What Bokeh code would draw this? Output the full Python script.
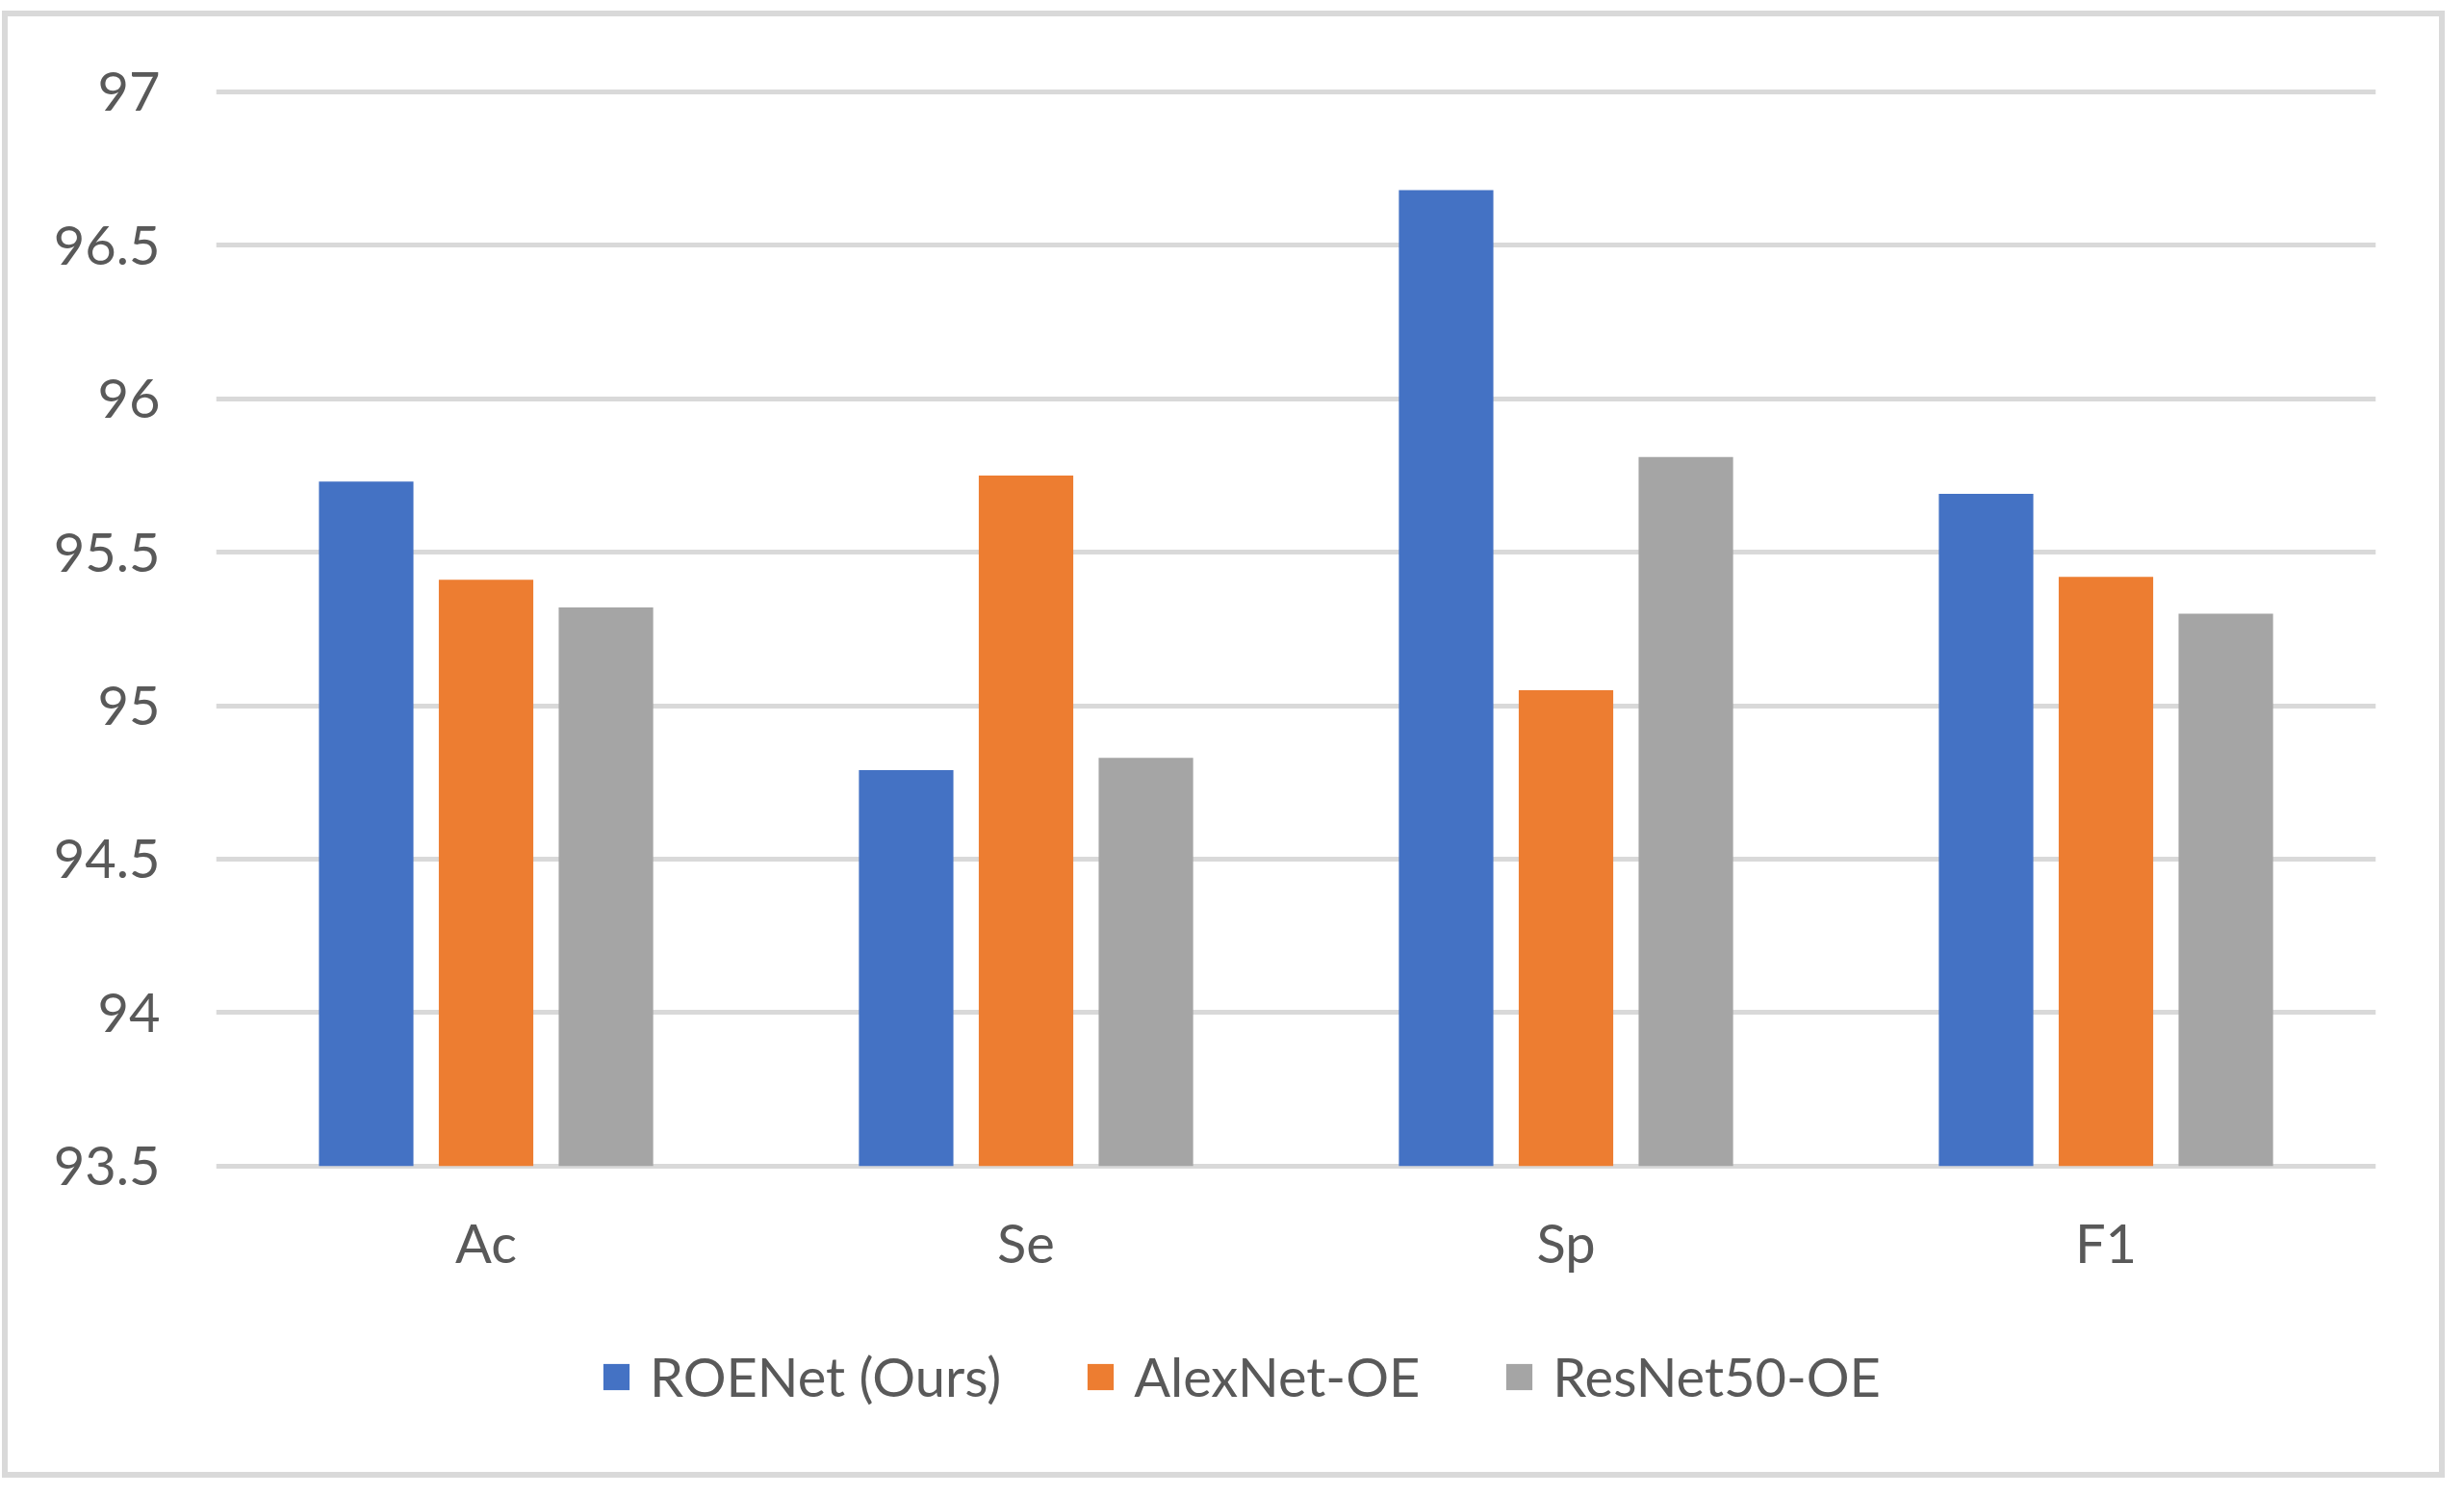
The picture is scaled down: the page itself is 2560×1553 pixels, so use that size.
from bokeh.plotting import figure
from bokeh.models import (ColumnDataSource, FactorRange, Range1d, FixedTicker,
                          Legend, LegendItem)
from bokeh.transform import dodge
from bokeh.embed import file_html
from bokeh.resources import INLINE

categories = ["Ac", "Se", "Sp", "F1"]
series_names = ["ROENet (Ours)", "AlexNet-OE", "ResNet50-OE"]
roenet = [95.73, 94.79, 96.68, 95.69]
alexnet = [95.41, 95.75, 95.05, 95.42]
resnet = [95.32, 94.83, 95.81, 95.30]
ytick_values = [93.5, 94.0, 94.5, 95.0, 95.5, 96.0, 96.5, 97.0]
ytick_labels = ["93.5", "94", "94.5", "95", "95.5", "96", "96.5", "97"]
colors = ["#4472C4", "#ED7D31", "#A5A5A5"]
baseline = 93.5

FONT = "Lato"
TEXT = "#595959"
GRID = "#D9D9D9"

src = ColumnDataSource(dict(cat=categories, roenet=roenet, alexnet=alexnet,
                            resnet=resnet, base=[baseline] * len(categories)))

W, H = 2538, 1524
p = figure(x_range=FactorRange(*categories, range_padding=0),
           y_range=Range1d(92.558, 97.05),
           width=W, height=H, output_backend="svg", toolbar_location=None,
           min_border_left=216, min_border_right=78,
           min_border_top=62, min_border_bottom=30,
           styles={"border": "6px solid #D9D9D9",
                   "margin-left": "2px", "margin-top": "11px"})
p.outline_line_color = None
p.background_fill_color = "white"
p.border_fill_color = "white"

p.xgrid.grid_line_color = None
p.ygrid.ticker = FixedTicker(ticks=ytick_values)
p.ygrid.grid_line_color = GRID
p.ygrid.grid_line_width = 5

p.yaxis.ticker = FixedTicker(ticks=ytick_values)
p.yaxis.major_label_overrides = {v: l for v, l in zip(ytick_values, ytick_labels)}
p.xaxis.fixed_location = baseline

for ax in (p.xaxis[0], p.yaxis[0]):
    ax.axis_line_color = None
    ax.major_tick_line_color = None
    ax.minor_tick_line_color = None
    ax.major_label_text_font = FONT
    ax.major_label_text_font_size = "56px"
    ax.major_label_text_color = TEXT
p.yaxis.major_label_standoff = 52
p.xaxis.major_label_standoff = 40

offsets = [-0.222, 0.0, 0.222]
fields = ["roenet", "alexnet", "resnet"]
renderers = []
for f, off, c in zip(fields, offsets, colors):
    r = p.vbar(x=dodge("cat", off, range=p.x_range), top=f, bottom="base",
               width=0.175, source=src, fill_color=c, line_color=None)
    renderers.append(r)

legend = Legend(items=[LegendItem(label=n, renderers=[r])
                       for n, r in zip(series_names, renderers)],
                orientation="horizontal", location=(399, 48),
                glyph_width=34, glyph_height=34, label_standoff=18,
                spacing=86, padding=0, margin=0,
                border_line_color=None, background_fill_alpha=0,
                label_text_font=FONT, label_text_font_size="56px",
                label_text_color=TEXT)
p.add_layout(legend)

open("out.html", "w").write(file_html(p, INLINE))
